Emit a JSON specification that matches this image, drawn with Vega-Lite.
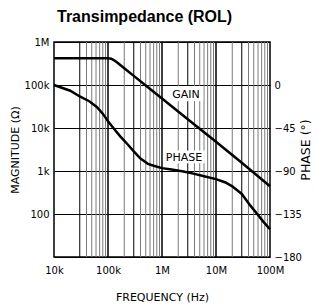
{
  "$schema": "https://vega.github.io/schema/vega-lite/v6.json",
  "width": 216,
  "height": 215,
  "autosize": {"type": "none"},
  "padding": {"left": 54, "top": 42, "right": 48, "bottom": 51},
  "background": "white",
  "title": {"text": "Transimpedance (ROL)", "anchor": "start", "frame": "group", "dx": 3, "font": "Liberation Sans", "fontSize": 16, "fontWeight": "bold", "color": "black", "offset": 12},
  "config": {
    "view": {"stroke": "black", "strokeWidth": 1.5},
    "axis": {"labelFont": "DejaVu Sans", "labelFontSize": 10, "labelColor": "black", "titleFont": "DejaVu Sans", "titleFontSize": 11, "titleFontWeight": "normal", "titleColor": "black", "ticks": false, "domain": false, "labelFlush": false}
  },
  "datasets": {
    "gain": [
      {"f": 10000, "m": 420000}, {"f": 50000, "m": 420000}, {"f": 100000, "m": 418000},
      {"f": 115000, "m": 410000}, {"f": 130000, "m": 375000}, {"f": 150000, "m": 330000},
      {"f": 200000, "m": 245000}, {"f": 300000, "m": 163000}, {"f": 500000, "m": 97000},
      {"f": 1000000, "m": 48500}, {"f": 3000000, "m": 16000}, {"f": 10000000, "m": 4800},
      {"f": 30000000, "m": 1550}, {"f": 100000000, "m": 440}
    ],
    "phase": [
      {"f": 10000, "p": 0}, {"f": 20000, "p": -6}, {"f": 30000, "p": -12}, {"f": 45000, "p": -17},
      {"f": 62000, "p": -23}, {"f": 80000, "p": -30}, {"f": 100000, "p": -38}, {"f": 130000, "p": -46},
      {"f": 170000, "p": -54}, {"f": 230000, "p": -62}, {"f": 300000, "p": -69.5}, {"f": 400000, "p": -77},
      {"f": 550000, "p": -82.5}, {"f": 700000, "p": -84.5}, {"f": 1000000, "p": -87}, {"f": 1500000, "p": -88.5},
      {"f": 2500000, "p": -90.5}, {"f": 4000000, "p": -93}, {"f": 6000000, "p": -95.5}, {"f": 10000000, "p": -98.5},
      {"f": 15000000, "p": -102}, {"f": 20000000, "p": -106}, {"f": 30000000, "p": -114}, {"f": 43000000, "p": -126},
      {"f": 60000000, "p": -136}, {"f": 75000000, "p": -143}, {"f": 100000000, "p": -151}
    ],
    "vgrid": [
      {"f": 100000, "k": "dec"}, {"f": 1000000, "k": "dec"}, {"f": 10000000, "k": "dec"},
      {"f": 30000, "k": "half"}, {"f": 300000, "k": "half"}, {"f": 3000000, "k": "half"}, {"f": 30000000, "k": "half"},
      {"f": 40000, "k": "minor"}, {"f": 50000, "k": "minor"}, {"f": 60000, "k": "minor"}, {"f": 70000, "k": "minor"}, {"f": 80000, "k": "minor"}, {"f": 90000, "k": "minor"},
      {"f": 200000, "k": "minor"}, {"f": 400000, "k": "minor"}, {"f": 500000, "k": "minor"}, {"f": 600000, "k": "minor"}, {"f": 700000, "k": "minor"}, {"f": 800000, "k": "minor"}, {"f": 900000, "k": "minor"},
      {"f": 2000000, "k": "minor"}, {"f": 4000000, "k": "minor"}, {"f": 5000000, "k": "minor"}, {"f": 6000000, "k": "minor"}, {"f": 7000000, "k": "minor"}, {"f": 8000000, "k": "minor"}, {"f": 9000000, "k": "minor"},
      {"f": 20000000, "k": "minor"}, {"f": 40000000, "k": "minor"}, {"f": 50000000, "k": "minor"}, {"f": 60000000, "k": "minor"}, {"f": 70000000, "k": "minor"}, {"f": 80000000, "k": "minor"}, {"f": 90000000, "k": "minor"}
    ],
    "gainbox": [{"f": 1400000, "f2": 5800000, "m": 42000, "m2": 95000}],
    "gainlabel": [{"f": 2780000, "m": 58500, "t": "GAIN"}],
    "phasebox": [{"f": 1040000, "f2": 6200000, "p": -68.5, "p2": -82}],
    "phaselabel": [{"f": 2550000, "p": -76, "t": "PHASE"}]
  },
  "encoding": {
    "x": {"field": "f", "type": "quantitative", "scale": {"type": "log", "domain": [10000, 100000000], "nice": false},
      "axis": {"values": [10000, 100000, 1000000, 10000000, 100000000], "format": "~s", "grid": false, "labelPadding": 8, "title": "FREQUENCY (Hz)", "titlePadding": 16}}
  },
  "layer": [
    {
      "layer": [
        {"data": {"name": "vgrid"}, "transform": [{"filter": "datum.k == 'minor'"}], "mark": {"type": "rule", "color": "#7a7a7a", "strokeWidth": 1}, "encoding": {}},
        {"data": {"name": "vgrid"}, "transform": [{"filter": "datum.k == 'half'"}], "mark": {"type": "rule", "color": "black", "strokeWidth": 1}, "encoding": {}},
        {"data": {"name": "vgrid"}, "transform": [{"filter": "datum.k == 'dec'"}], "mark": {"type": "rule", "color": "black", "strokeWidth": 1.5}, "encoding": {}},
        {"data": {"name": "gainbox"}, "mark": {"type": "rect", "fill": "white"},
          "encoding": {"x2": {"field": "f2"}, "y": {"field": "m", "type": "quantitative", "title": "MAGNITUDE (Ω)"}, "y2": {"field": "m2"}}},
        {"data": {"name": "gainlabel"}, "mark": {"type": "text", "font": "DejaVu Sans", "fontSize": 11, "color": "black", "align": "center", "baseline": "middle"},
          "encoding": {"y": {"field": "m", "type": "quantitative", "title": "MAGNITUDE (Ω)"}, "text": {"field": "t"}}},
        {"data": {"name": "gain"}, "mark": {"type": "line", "color": "black", "strokeWidth": 2.5},
          "encoding": {"y": {"field": "m", "type": "quantitative", "scale": {"type": "log", "domain": [10, 1000000], "nice": false},
            "axis": {"orient": "left", "values": [100, 1000, 10000, 100000, 1000000], "format": "~s", "grid": false, "labelPadding": 5, "title": "MAGNITUDE (Ω)", "titlePadding": 4}}}}
      ]
    },
    {
      "layer": [
        {"data": {"name": "phasebox"}, "mark": {"type": "rect", "fill": "white"},
          "encoding": {"x2": {"field": "f2"}, "y": {"field": "p", "type": "quantitative", "title": "PHASE (°)"}, "y2": {"field": "p2"}}},
        {"data": {"name": "phaselabel"}, "mark": {"type": "text", "font": "DejaVu Sans", "fontSize": 11, "color": "black", "align": "center", "baseline": "middle"},
          "encoding": {"y": {"field": "p", "type": "quantitative", "title": "PHASE (°)"}, "text": {"field": "t"}}},
        {"data": {"name": "phase"}, "mark": {"type": "line", "color": "black", "strokeWidth": 2.5},
          "encoding": {"y": {"field": "p", "type": "quantitative", "scale": {"domain": [-180, 45], "nice": false, "zero": false},
            "axis": {"orient": "right", "values": [-180, -157.5, -135, -112.5, -90, -67.5, -45, -22.5, 0, 22.5, 45], "format": "d",
              "labelExpr": "datum.value <= 0 && datum.value % 45 == 0 ? datum.label : ''",
              "grid": true, "gridColor": "black", "gridOpacity": 1, "gridWidth": 1, "labelPadding": 4,
              "title": "PHASE (°)", "titleAngle": 270, "titleFontSize": 12.5, "titlePadding": 11}}}}
      ]
    }
  ],
  "resolve": {"scale": {"y": "independent"}}
}
